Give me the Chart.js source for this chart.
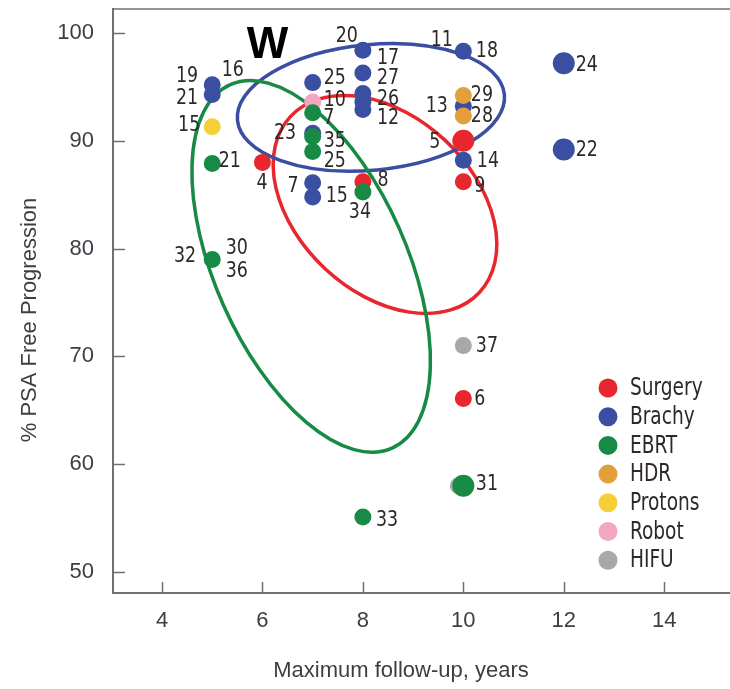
<!DOCTYPE html>
<html>
<head>
<meta charset="utf-8">
<script src="https://cdn.jsdelivr.net/npm/chart.js@4.4.1/dist/chart.umd.min.js"></script>
<style>
  html, body { margin: 0; padding: 0; background: #fff; }
  #wrap { width: 730px; height: 689px; }
</style>
</head>
<body>
<div id="wrap"><canvas id="chart" width="730" height="689"></canvas></div>
<script>
// --- data ---
const categories = ['Surgery', 'Brachy', 'EBRT', 'HDR', 'Protons', 'Robot', 'HIFU'];

const surgeryX = [6, 10, 10, 8, 10];
const surgeryY = [88.0, 90.0, 86.2, 86.2, 66.1];

const brachyX = [5, 5, 7, 7, 7, 7, 8, 8, 8, 8, 8, 10, 10, 10, 12, 12];
const brachyY = [95.2, 94.3, 95.4, 90.7, 86.1, 84.8, 98.4, 96.3, 94.4, 93.6, 92.9, 98.3, 93.2, 88.2, 97.2, 89.2];

const ebrtX = [5, 7, 7, 7, 8, 5, 10, 8];
const ebrtY = [87.9, 92.6, 90.4, 89.0, 85.25, 79.0, 58.0, 55.1];

const hdrX = [10, 10];
const hdrY = [94.2, 92.3];

const protonsX = [5];
const protonsY = [91.3];

const robotX = [7];
const robotY = [93.6];

const hifuX = [10, 9.9];
const hifuY = [71.0, 58.0];

// study numbers written beside the points
const labelText = ['19', '16', '21', '15', '21', '4', '32', '30', '36', '20', '25', '10', '7', '23', '35', '25', '7', '15', '8', '34',
  '17', '27', '26', '12', '11', '18', '13', '29', '28', '5', '14', '9', '24', '22', '37', '6', '31', '33'];
const labelX = [4.5, 5.41, 4.5, 4.54, 5.35, 5.99, 4.46, 5.49, 5.49, 7.68, 7.44, 7.44, 7.32, 6.45, 7.44, 7.44, 6.61, 7.48, 8.4, 7.94,
  8.5, 8.5, 8.5, 8.5, 9.57, 10.47, 9.47, 10.37, 10.37, 9.43, 10.49, 10.33, 12.46, 12.46, 10.47, 10.33, 10.47, 8.48];
const labelY = [96.0, 96.5, 93.95, 91.4, 88.1, 86.1, 79.3, 80.0, 77.9, 99.7, 95.8, 93.8, 92.1, 90.7, 90.0, 88.1, 85.75, 84.9, 86.3, 83.4,
  97.7, 95.8, 93.9, 92.1, 99.3, 98.3, 93.2, 94.2, 92.3, 89.9, 88.1, 85.75, 97.0, 89.1, 70.95, 66.0, 58.1, 54.8];

// outline ellipses (centre and semi-axes in x-axis units, tilt in degrees)
const ellipseGroups = ['Surgery', 'Brachy', 'EBRT'];
const ellipseCx = [8.44, 8.16, 6.97];
const ellipseCy = [84.1, 93.1, 78.35];
const ellipseA = [2.57, 2.67, 3.96];
const ellipseB = [1.75, 1.25, 1.91];
const ellipseTilt = [43, -5.5, 66];

const xTicks = [4, 6, 8, 10, 12, 14];
const yTicks = [50, 60, 70, 80, 90, 100];

const xTitle = 'Maximum follow-up, years';
const yTitle = '% PSA Free Progression';
const panelMark = 'W';

// --- styling ---
const colors = {
  Surgery: '#e8262d',
  Brachy: '#3b4fa2',
  EBRT: '#178a45',
  HDR: '#e3a03a',
  Protons: '#f4cf35',
  Robot: '#f3a6c0',
  HIFU: '#a6a8ab',
};
const drawOrder = { EBRT: 0, Protons: 1, Surgery: 2, HDR: 3, Robot: 4, HIFU: 5, Brachy: 6 };
const bigMarkers = { Surgery: [1], EBRT: [6], Brachy: [14, 15] };

const plainFont = '"Liberation Sans", Arial, sans-serif';
const narrowFont = '"DejaVu Sans Condensed", "Liberation Sans", sans-serif';
const textColor = '#2e2828';
const axisColor = '#707070';

const seriesX = { Surgery: surgeryX, Brachy: brachyX, EBRT: ebrtX, HDR: hdrX, Protons: protonsX, Robot: robotX, HIFU: hifuX };
const seriesY = { Surgery: surgeryY, Brachy: brachyY, EBRT: ebrtY, HDR: hdrY, Protons: protonsY, Robot: robotY, HIFU: hifuY };

const markerSize = (name) => (ctx) => ((bigMarkers[name] || []).includes(ctx.dataIndex) ? 11 : 8.5);

const datasets = categories.map((name) => ({
  label: name,
  data: seriesX[name].map((x, i) => ({ x, y: seriesY[name][i] })),
  backgroundColor: colors[name],
  borderWidth: 0,
  order: drawOrder[name],
  pointRadius: markerSize(name),
  pointHoverRadius: markerSize(name),
}));

// text squeezed sideways to mimic the condensed face of the original
function narrowText(ctx, text, px, py, squeeze) {
  ctx.save();
  ctx.translate(px, py);
  ctx.scale(squeeze, 1);
  ctx.fillText(text, 0, 0);
  ctx.restore();
}

const decorPlugin = {
  id: 'decor',
  beforeDatasetsDraw(chart) {
    const { ctx, chartArea, scales: { x, y } } = chart;
    ctx.save();
    ctx.beginPath();
    ctx.rect(chartArea.left, chartArea.top, chartArea.right - chartArea.left, chartArea.bottom - chartArea.top);
    ctx.clip();
    ellipseGroups.forEach((name, i) => {
      const cx = x.getPixelForValue(ellipseCx[i]);
      const cy = y.getPixelForValue(ellipseCy[i]);
      const rx = Math.abs(x.getPixelForValue(ellipseCx[i] + ellipseA[i]) - cx);
      const ry = Math.abs(x.getPixelForValue(ellipseCx[i] + ellipseB[i]) - cx);
      ctx.beginPath();
      ctx.ellipse(cx, cy, rx, ry, ellipseTilt[i] * Math.PI / 180, 0, Math.PI * 2);
      ctx.strokeStyle = colors[name];
      ctx.lineWidth = 3.5;
      ctx.stroke();
    });
    ctx.restore();
  },
  afterDatasetsDraw(chart) {
    const { ctx, chartArea, scales: { x, y } } = chart;
    ctx.save();

    // top frame line and inward tick marks
    ctx.strokeStyle = axisColor;
    ctx.lineWidth = 1.5;
    ctx.beginPath();
    ctx.moveTo(chartArea.left, chartArea.top);
    ctx.lineTo(chartArea.right, chartArea.top);
    xTicks.forEach((v) => {
      const px = Math.round(x.getPixelForValue(v)) + 0.5;
      ctx.moveTo(px, chartArea.bottom);
      ctx.lineTo(px, chartArea.bottom - 11);
    });
    yTicks.forEach((v) => {
      const py = Math.round(y.getPixelForValue(v)) + 0.5;
      ctx.moveTo(chartArea.left, py);
      ctx.lineTo(chartArea.left + 12, py);
    });
    ctx.stroke();

    // study numbers
    ctx.fillStyle = textColor;
    ctx.font = '22px ' + narrowFont;
    ctx.textAlign = 'center';
    ctx.textBaseline = 'middle';
    labelText.forEach((t, i) => {
      narrowText(ctx, t, x.getPixelForValue(labelX[i]), y.getPixelForValue(labelY[i]), 0.88);
    });

    // panel mark
    ctx.fillStyle = '#000';
    ctx.font = 'bold 44px ' + plainFont;
    ctx.fillText(panelMark, x.getPixelForValue(6.1), y.getPixelForValue(98.8));

    // legend
    ctx.textAlign = 'left';
    ctx.font = '24px ' + narrowFont;
    categories.forEach((name, i) => {
      const cy = 388 + i * 28.7;
      ctx.beginPath();
      ctx.arc(608, cy, 9.5, 0, Math.PI * 2);
      ctx.fillStyle = colors[name];
      ctx.fill();
      ctx.fillStyle = textColor;
      narrowText(ctx, name, 630, cy + 1, 0.86);
    });

    // axis titles
    ctx.fillStyle = '#3d3d45';
    ctx.font = '22px ' + plainFont;
    ctx.textAlign = 'center';
    ctx.fillText(xTitle, 401, 671);
    ctx.translate(30, 320);
    ctx.rotate(-Math.PI / 2);
    ctx.fillText(yTitle, 0, 0);
    ctx.restore();
  },
};

new Chart(document.getElementById('chart'), {
  type: 'scatter',
  data: { datasets },
  plugins: [decorPlugin],
  options: {
    responsive: false,
    devicePixelRatio: 1,
    animation: false,
    layout: { autoPadding: false, padding: { top: 9, right: 0, bottom: 0, left: 0 } },
    plugins: { legend: { display: false }, tooltip: { enabled: false } },
    scales: {
      x: {
        type: 'linear',
        min: 3.024,
        max: 15.31,
        afterFit: (s) => { s.height = 96; s.paddingLeft = 0; s.paddingRight = 0; },
        afterBuildTicks: (s) => { s.ticks = xTicks.map((v) => ({ value: v })); },
        grid: { display: false, drawTicks: false },
        border: { display: true, color: axisColor, width: 2 },
        ticks: { font: { family: plainFont, size: 22 }, color: '#3d3d45', padding: 15, maxRotation: 0, autoSkip: false },
      },
      y: {
        type: 'linear',
        min: 48.05,
        max: 102.23,
        afterFit: (s) => { s.width = 113; s.paddingTop = 0; s.paddingBottom = 0; },
        afterBuildTicks: (s) => { s.ticks = yTicks.map((v) => ({ value: v })); },
        grid: { display: false, drawTicks: false },
        border: { display: true, color: axisColor, width: 2 },
        ticks: { font: { family: plainFont, size: 22 }, color: '#3d3d45', padding: 19, autoSkip: false },
      },
    },
  },
});
</script>
</body>
</html>
